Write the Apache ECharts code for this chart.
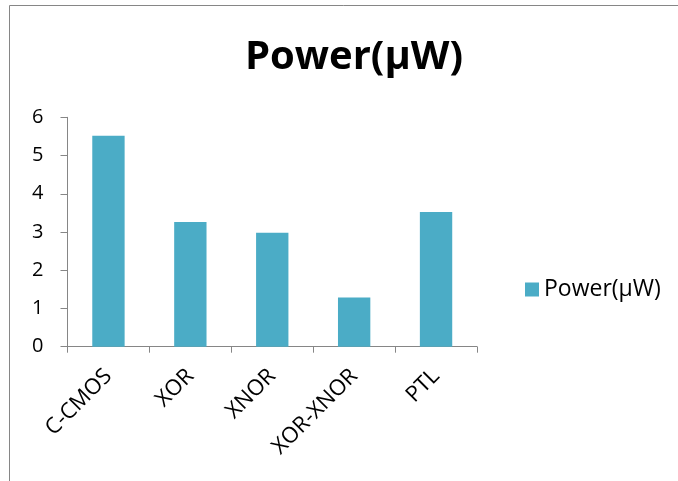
<!DOCTYPE html>
<html><head><meta charset="utf-8">
<script src="https://cdn.jsdelivr.net/npm/echarts@6/dist/echarts.min.js"></script>
<style>html,body{margin:0;padding:0;background:#fff}#c{width:678px;height:481px}</style>
</head><body><div id="c"></div>
<script>
const categories = ["C-CMOS", "XOR", "XNOR", "XOR-XNOR", "PTL"];
const powerValues = [5.52, 3.26, 2.98, 1.29, 3.52];
const seriesName = "Power(μW)";
const titleText = "Power(μW)";
const yTicks = [0, 1, 2, 3, 4, 5, 6];

const chart = echarts.init(document.getElementById('c'), null, {renderer: 'canvas'});
chart.setOption({
  backgroundColor: '#fff',
  animation: false,
  graphic: [{
    type: 'polyline', shape: {points: [[9.5, 481], [9.5, 5.5], [678, 5.5]]},
    style: {stroke: '#868686', lineWidth: 1, fill: null}
  }],
  title: {
    text: titleText, left: 349, top: 33, textAlign: 'center',
    textStyle: {fontFamily: 'Open Sans', fontWeight: 'bold', fontSize: 40, color: '#000'}
  },
  legend: {
    data: [seriesName], left: 520, top: 273, itemWidth: 14, itemHeight: 14, itemGap: 6,
    icon: 'rect',
    textStyle: {fontFamily: 'Open Sans', fontSize: 23, color: '#000'}
  },
  grid: {left: 67.5, right: 201, top: 117.3, bottom: 134.3, containLabel: false},
  xAxis: {
    type: 'category', data: categories,
    axisLine: {lineStyle: {color: '#868686'}},
    axisTick: {show: true, length: 6, lineStyle: {color: '#868686'}},
    axisLabel: {rotate: 45, fontFamily: 'Open Sans', fontSize: 22, color: '#000', margin: 26}
  },
  yAxis: {
    type: 'value', min: yTicks[0], max: yTicks[yTicks.length - 1], interval: 1,
    axisLine: {show: true, lineStyle: {color: '#868686'}},
    axisTick: {show: true, length: 7, lineStyle: {color: '#868686'}},
    splitLine: {show: false},
    axisLabel: {fontFamily: 'Open Sans', fontSize: 20, color: '#000', margin: 24}
  },
  series: [{
    name: seriesName, type: 'bar', data: powerValues,
    barWidth: '39.5%',
    itemStyle: {color: '#4BACC6'}
  }]
});
</script></body></html>
